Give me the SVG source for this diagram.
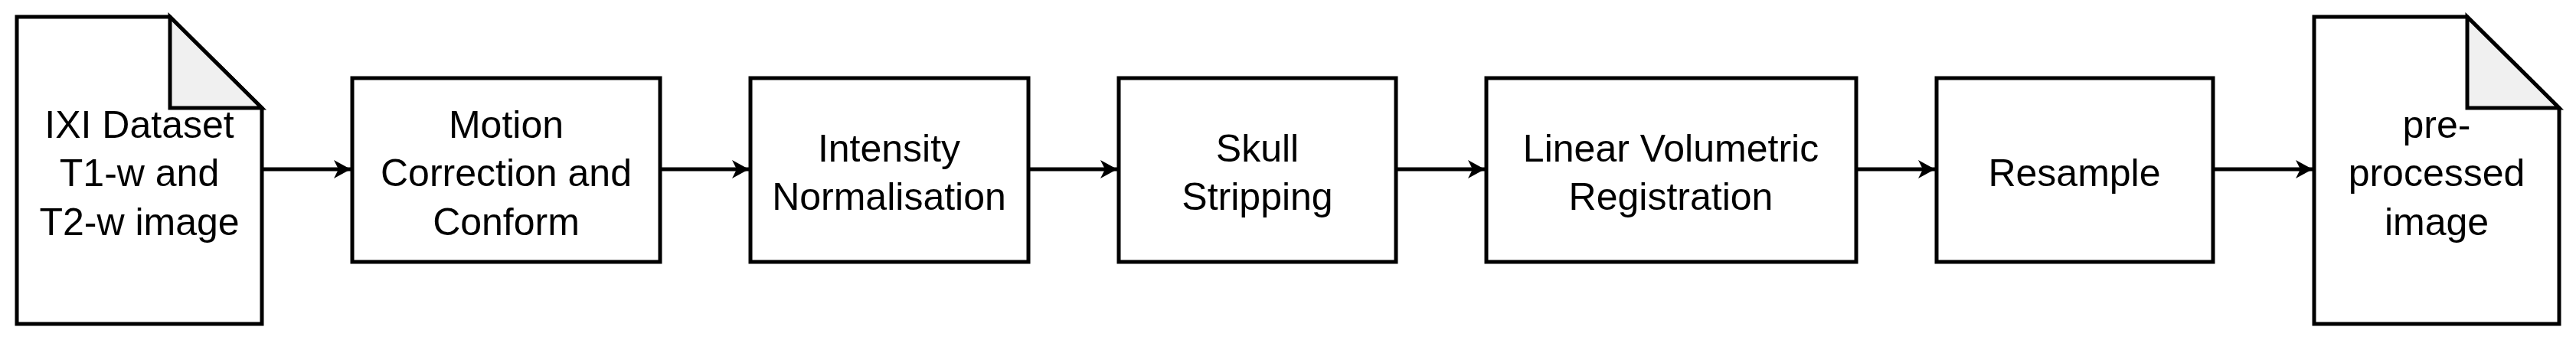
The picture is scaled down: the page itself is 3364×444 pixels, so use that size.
<svg xmlns="http://www.w3.org/2000/svg" width="3364" height="444" viewBox="0 0 3364 444">
<style>
.s{fill:#fff;stroke:#000;stroke-width:5}
.f{fill:#f0f0f0;stroke:#000;stroke-width:5;stroke-linejoin:miter}
.t{font-family:"Liberation Sans",Arial,sans-serif;font-size:50px;text-anchor:middle;fill:#000}
.c{stroke:#000;stroke-width:5;fill:none}
</style>
<defs><marker id="a" markerWidth="24" markerHeight="24" refX="22" refY="12" orientation="auto" markerUnits="userSpaceOnUse" orient="auto"><path d="M0,0 L22,12 L0,24 L6,12 Z" fill="#000"/></marker></defs>
<rect width="3364" height="444" fill="#fff"/>
<g id="connectors">
<line class="c" x1="342" y1="221" x2="458" y2="221" marker-end="url(#a)"/>
<line class="c" x1="862" y1="221" x2="978" y2="221" marker-end="url(#a)"/>
<line class="c" x1="1343" y1="221" x2="1459" y2="221" marker-end="url(#a)"/>
<line class="c" x1="1823" y1="221" x2="1939" y2="221" marker-end="url(#a)"/>
<line class="c" x1="2424" y1="221" x2="2527" y2="221" marker-end="url(#a)"/>
<line class="c" x1="2890" y1="221" x2="3020" y2="221" marker-end="url(#a)"/>
</g>
<g id="doc1"><path class="s" d="M22,22 H222 L342,141 V423 H22 Z"/><path class="f" d="M222,22 V141 H342 Z"/>
<text class="t" x="182"><tspan x="182" y="180">IXI Dataset</tspan><tspan x="182" y="243">T1-w and</tspan><tspan x="182" y="307">T2-w image</tspan></text></g>
<g id="motion"><rect class="s" x="460" y="102" width="402" height="240"/>
<text class="t"><tspan x="661" y="180">Motion</tspan><tspan x="661" y="243">Correction and</tspan><tspan x="661" y="307">Conform</tspan></text></g>
<g id="intensity"><rect class="s" x="980" y="102" width="363" height="240"/>
<text class="t"><tspan x="1161" y="211">Intensity</tspan><tspan x="1161" y="274">Normalisation</tspan></text></g>
<g id="skull"><rect class="s" x="1461" y="102" width="362" height="240"/>
<text class="t"><tspan x="1642" y="211">Skull</tspan><tspan x="1642" y="274">Stripping</tspan></text></g>
<g id="linear"><rect class="s" x="1941" y="102" width="483" height="240"/>
<text class="t"><tspan x="2182" y="211">Linear Volumetric</tspan><tspan x="2182" y="274">Registration</tspan></text></g>
<g id="resample"><rect class="s" x="2529" y="102" width="361" height="240"/>
<text class="t" x="2709" y="243">Resample</text></g>
<g id="doc2"><path class="s" d="M3022,22 H3222 L3342,141 V423 H3022 Z"/><path class="f" d="M3222,22 V141 H3342 Z"/>
<text class="t"><tspan x="3182" y="180">pre-</tspan><tspan x="3182" y="243">processed</tspan><tspan x="3182" y="307">image</tspan></text></g>
</svg>
